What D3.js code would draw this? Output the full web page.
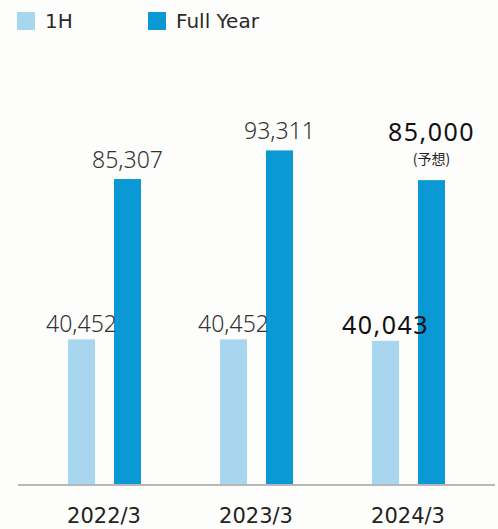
<!DOCTYPE html>
<html>
<head>
<meta charset="utf-8">
<script src="https://cdn.jsdelivr.net/npm/d3@7"></script>
<style>
  body { margin: 0; background: #fdfdfb; }
</style>
</head>
<body>
<script>
const categories = ['2022/3', '2023/3', '2024/3']
const series = ['1H', 'Full Year']
const firstHalf = [40452, 40452, 40043]
const fullYear = [85307, 93311, 85000]
const forecastNote = [null, null, '(予想)']

const colors = ['#a8d6ef', '#0b99d5']
const width = 498
const height = 529

const svg = d3.select('body').append('svg')
  .attr('width', width)
  .attr('height', height)

// legend
const legend = svg.append('g')
series.forEach((s, i) => {
  const lx = i === 0 ? 17 : 148
  legend.append('rect')
    .attr('x', lx).attr('y', 12)
    .attr('width', 18).attr('height', 18)
    .style('fill', colors[i])
  legend.append('text')
    .attr('x', lx + 28).attr('y', 28)
    .text(s)
    .style('font-family', 'DejaVu Sans')
    .style('font-size', '20px')
    .style('fill', '#2a2a2a')
})

const x = d3.scaleBand().domain(categories).range([28, 484]).padding(0)
const xSub = d3.scaleBand().domain(series).range([40, 113]).paddingInner(0.413).paddingOuter(0)
const y = d3.scaleLinear().domain([0, 100000]).range([484, 126.5])

const rows = categories.map((c, i) => ({
  cat: c,
  values: [firstHalf[i], fullYear[i]],
  note: forecastNote[i],
  last: i === categories.length - 1
}))

const g = svg.selectAll('.group')
  .data(rows)
  .enter().append('g')
  .attr('class', 'group')
  .attr('transform', d => `translate(${x(d.cat)},0)`)

g.selectAll('rect')
  .data(d => d.values.map((v, j) => ({ key: series[j], v, j })))
  .enter().append('rect')
  .attr('x', d => xSub(d.key))
  .attr('y', d => y(d.v))
  .attr('width', xSub.bandwidth())
  .attr('height', d => y(0) - y(d.v))
  .style('fill', d => colors[d.j])

// value labels
g.each(function (row) {
  const grp = d3.select(this)
  row.values.forEach((v, j) => {
    const cx = xSub(series[j]) + xSub.bandwidth() / 2
    let off = j === 0 ? 7 : 11
    if (row.note && j === 1) off = 39
    grp.append('text')
      .attr('x', cx)
      .attr('y', y(v) - off)
      .attr('text-anchor', 'middle')
      .text(d3.format(',')(v))
      .style('font-family', 'Noto Sans')
      .style('font-size', row.last ? '25px' : '23px')
      .style('font-weight', row.last ? 400 : 300)
      .style('letter-spacing', row.last ? '1.5px' : '0px')
      .style('fill', row.last ? '#111' : '#333')
    if (row.note && j === 1) {
      grp.append('text')
        .attr('x', cx)
        .attr('y', y(v) - 16)
        .attr('text-anchor', 'middle')
        .text(row.note)
        .style('font-family', 'Noto Sans CJK JP')
        .style('font-size', '14px')
        .style('fill', '#222')
    }
  })
})

// baseline
svg.append('line')
  .attr('x1', 18).attr('x2', 495)
  .attr('y1', y(0) + 1).attr('y2', y(0) + 1)
  .style('stroke', '#b8b8b8')
  .style('stroke-width', 2)

// category labels
svg.selectAll('.cat')
  .data(categories)
  .enter().append('text')
  .attr('class', 'cat')
  .attr('x', d => x(d) + x.bandwidth() / 2)
  .attr('y', 523)
  .attr('text-anchor', 'middle')
  .text(d => d)
  .style('font-family', 'DejaVu Sans')
  .style('font-size', '21px')
  .style('fill', '#222')
</script>
</body>
</html>
